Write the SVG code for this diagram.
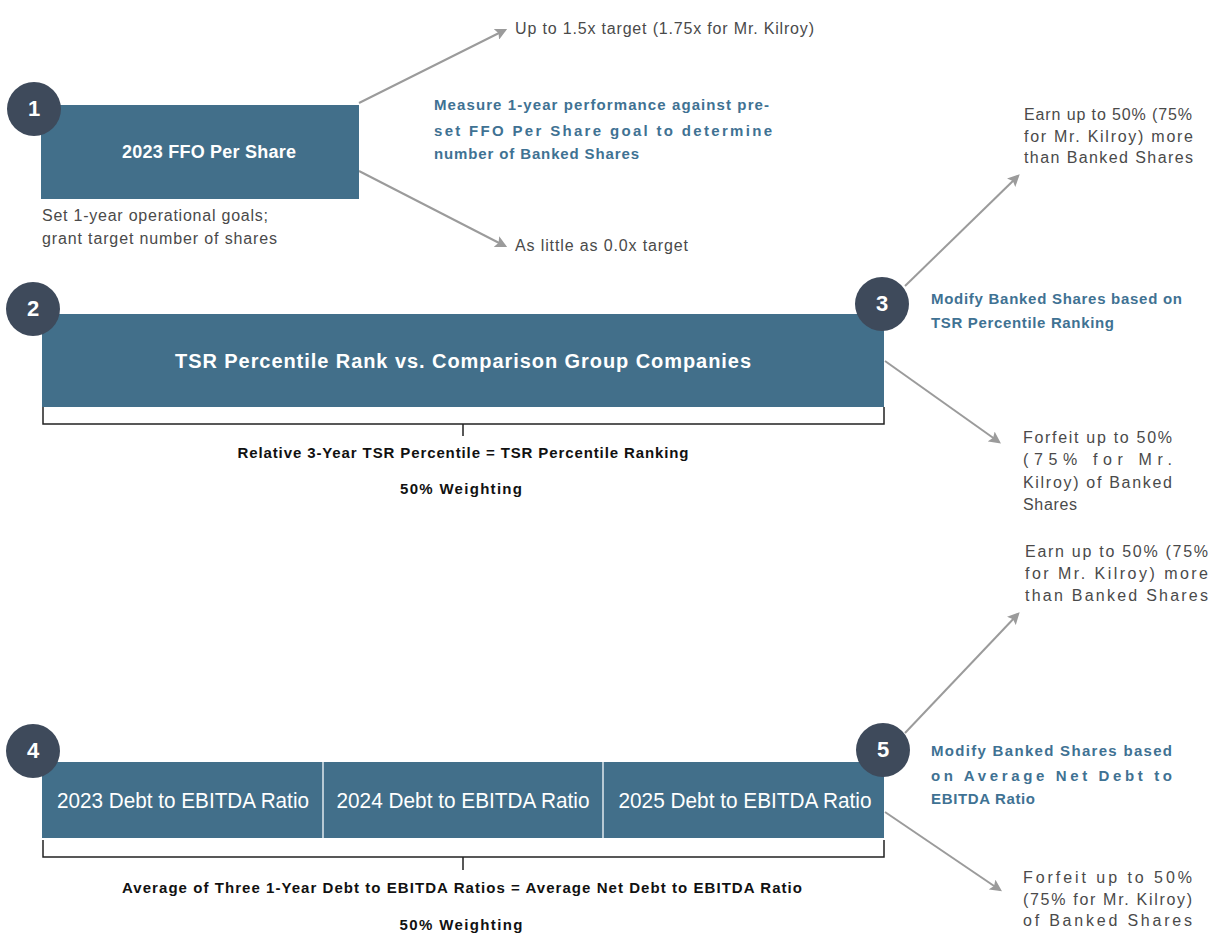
<svg xmlns="http://www.w3.org/2000/svg" width="1211" height="935" viewBox="0 0 1211 935">
<style>
.box{fill:#426f8a}
.num{fill:#3e4a5b}
.numt{font-family:"Liberation Sans",Arial,sans-serif;font-weight:bold;font-size:22px;fill:#fff;text-anchor:middle}
.bt{font-family:"Liberation Sans",Arial,sans-serif;font-weight:bold;font-size:18px;fill:#fff;text-anchor:middle}
.dt{font-family:"Liberation Sans",Arial,sans-serif;font-size:22px;fill:#fff;text-anchor:middle}
.g{font-family:"Liberation Sans",Arial,sans-serif;font-size:16px;fill:#4a4a4a}
.b{font-family:"Liberation Sans",Arial,sans-serif;font-weight:bold;font-size:15px;fill:#3f7293}
.k{font-family:"Liberation Sans",Arial,sans-serif;font-weight:bold;font-size:15px;fill:#111;text-anchor:middle}
.arr{stroke:#9b9b9b;stroke-width:2;fill:none;marker-end:url(#ah)}
.br{stroke:#222;stroke-width:1.5;fill:none}
</style>
<defs>
<marker id="ah" viewBox="0 0 10 10" refX="8" refY="5" markerWidth="6" markerHeight="6" markerUnits="strokeWidth" orient="auto">
<path d="M0,0 L10,5 L0,10 L2,5 Z" fill="#9b9b9b"/>
</marker>
</defs>
<rect width="1211" height="935" fill="#fff"/>

<g id="connectors">
<line class="arr" x1="359" y1="103" x2="505" y2="30"/>
<line class="arr" x1="359" y1="171" x2="505" y2="246"/>
<line class="arr" x1="905" y1="286" x2="1018" y2="176"/>
<line class="arr" x1="885" y1="361" x2="999" y2="442"/>
<line class="arr" x1="905" y1="733" x2="1018" y2="614"/>
<line class="arr" x1="885" y1="812" x2="1000" y2="890"/>
<path class="br" d="M43,407 V424 H884 V407 M463,424 V436"/>
<path class="br" d="M43,840 V857 H884 V840 M463,857 V870"/>
</g>

<g id="node1">
<rect class="box" x="41" y="105" width="318" height="94"/>
<text class="bt" x="209" y="158" textLength="174">2023 FFO Per Share</text>
<circle class="num" cx="34" cy="109" r="27"/>
<text class="numt" x="34" y="116">1</text>
<text class="g" x="42" y="221" textLength="226">Set 1-year operational goals;</text>
<text class="g" x="42" y="244" textLength="235">grant target number of shares</text>
</g>

<g id="outcome1">
<text class="g" x="515" y="34" textLength="299">Up to 1.5x target (1.75x for Mr. Kilroy)</text>
<text class="g" x="515" y="251" textLength="173">As little as 0.0x target</text>
<text class="b" x="434" y="110" textLength="335">Measure 1-year performance against pre-</text>
<text class="b" x="434" y="136" textLength="338">set FFO Per Share goal to determine</text>
<text class="b" x="434" y="159" textLength="205">number of Banked Shares</text>
</g>

<g id="node2">
<rect class="box" x="42" y="314" width="842" height="93"/>
<text class="bt" x="463" y="368" textLength="576" style="font-size:20px">TSR Percentile Rank vs. Comparison Group Companies</text>
<circle class="num" cx="33" cy="309" r="27"/>
<text class="numt" x="33" y="316">2</text>
<text class="k" x="463" y="458" textLength="451">Relative 3-Year TSR Percentile = TSR Percentile Ranking</text>
<text class="k" x="461" y="494" textLength="122">50% Weighting</text>
</g>

<g id="node3">
<circle class="num" cx="882" cy="304" r="27"/>
<text class="numt" x="882" y="311">3</text>
<text class="b" x="931" y="304" textLength="251">Modify Banked Shares based on</text>
<text class="b" x="931" y="328" textLength="183">TSR Percentile Ranking</text>
<text class="g" x="1024" y="120" textLength="168">Earn up to 50% (75%</text>
<text class="g" x="1024" y="142" textLength="169">for Mr. Kilroy) more</text>
<text class="g" x="1024" y="163" textLength="169">than Banked Shares</text>
<text class="g" x="1023" y="443" textLength="149">Forfeit up to 50%</text>
<text class="g" x="1023" y="465" textLength="149">(75% for Mr.</text>
<text class="g" x="1023" y="488" textLength="149">Kilroy) of Banked</text>
<text class="g" x="1023" y="510" textLength="54">Shares</text>
</g>

<g id="node4">
<rect class="box" x="42" y="762" width="842" height="76"/>
<line x1="323" y1="762" x2="323" y2="838" stroke="#dfe7ec" stroke-width="1.5"/>
<line x1="603" y1="762" x2="603" y2="838" stroke="#dfe7ec" stroke-width="1.5"/>
<text class="dt" x="183" y="808" textLength="252" lengthAdjust="spacingAndGlyphs">2023 Debt to EBITDA Ratio</text>
<text class="dt" x="463" y="808" textLength="253" lengthAdjust="spacingAndGlyphs">2024 Debt to EBITDA Ratio</text>
<text class="dt" x="745" y="808" textLength="253" lengthAdjust="spacingAndGlyphs">2025 Debt to EBITDA Ratio</text>
<circle class="num" cx="33" cy="751" r="27"/>
<text class="numt" x="33" y="758">4</text>
<text class="k" x="462" y="893" textLength="680">Average of Three 1-Year Debt to EBITDA Ratios = Average Net Debt to EBITDA Ratio</text>
<text class="k" x="461" y="930" textLength="123">50% Weighting</text>
</g>

<g id="node5">
<circle class="num" cx="883" cy="750" r="27"/>
<text class="numt" x="883" y="757">5</text>
<text class="b" x="931" y="756" textLength="241">Modify Banked Shares based</text>
<text class="b" x="931" y="781" textLength="241">on Average Net Debt to</text>
<text class="b" x="931" y="804" textLength="104">EBITDA Ratio</text>
<text class="g" x="1025" y="557" textLength="183">Earn up to 50% (75%</text>
<text class="g" x="1025" y="579" textLength="183">for Mr. Kilroy) more</text>
<text class="g" x="1025" y="601" textLength="183">than Banked Shares</text>
<text class="g" x="1023" y="883" textLength="169">Forfeit up to 50%</text>
<text class="g" x="1023" y="905" textLength="169">(75% for Mr. Kilroy)</text>
<text class="g" x="1023" y="926" textLength="169">of Banked Shares</text>
</g>
</svg>
